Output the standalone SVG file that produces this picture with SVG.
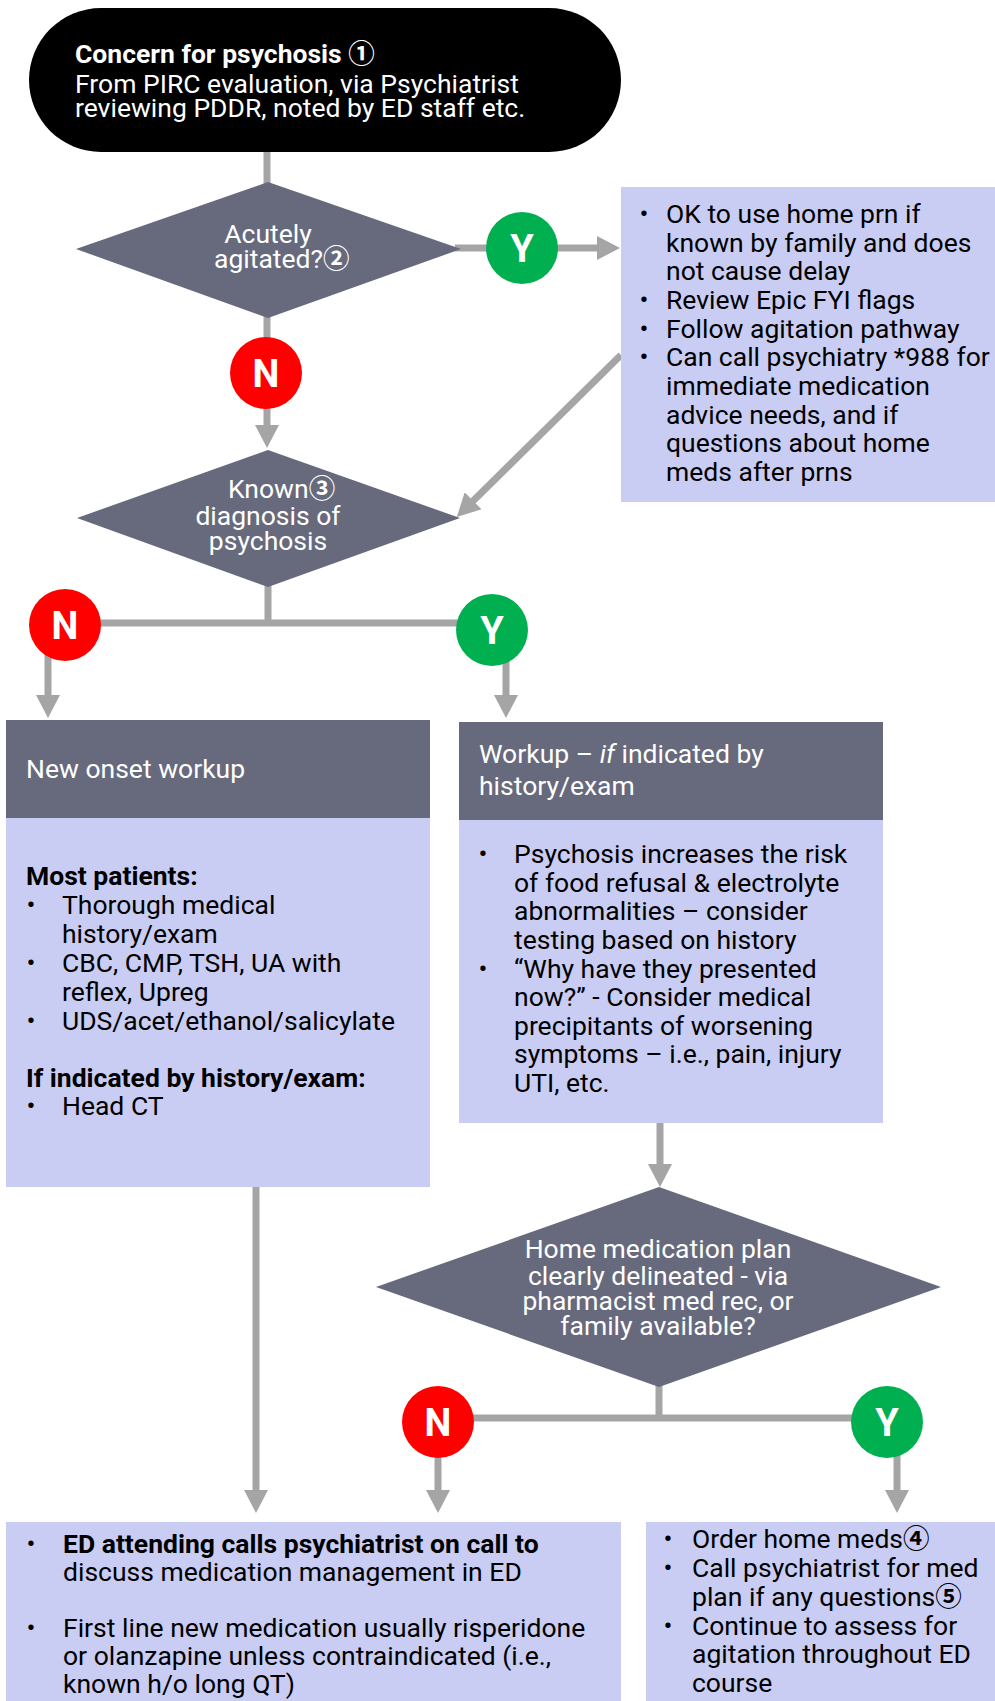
<svg xmlns="http://www.w3.org/2000/svg" width="995" height="1701" viewBox="0 0 995 1701">
<defs>
<style>
text{font-family:Roboto,"Liberation Sans",sans-serif;font-size:26.5px;fill:#000}
.w{fill:#fff}
.b{font-weight:bold}
.c{text-anchor:middle}
.circ{font-family:"Noto Sans CJK JP","DejaVu Sans",sans-serif;font-weight:bold}
.ln{stroke:#a5a5a5;stroke-width:7;fill:none}
.ar{marker-end:url(#ah)}
.dia{fill:#676a7d}
.box{fill:#c9cdf4}
.hdr{fill:#676a7d}
.yes{fill:#00b050}
.no{fill:#ff0000}
.lbl{font-size:38px;font-weight:bold;fill:#fff;text-anchor:middle}
</style>
<marker id="ah" markerUnits="userSpaceOnUse" markerWidth="23" markerHeight="24" viewBox="0 0 23 24" refX="3" refY="12" orient="auto">
<path d="M0,0 L23,12 L0,24 z" fill="#a5a5a5"/>
</marker>
</defs>
<rect width="995" height="1701" fill="#fff"/>

<g id="connectors">
<line class="ln" x1="267" y1="150" x2="267" y2="184"/>
<line class="ln" x1="455" y1="248" x2="522" y2="248"/>
<line class="ln ar" x1="522" y1="248" x2="600" y2="248"/>
<line class="ln" x1="267" y1="316" x2="267" y2="373"/>
<line class="ln ar" x1="267" y1="373" x2="267" y2="428"/>
<line class="ln ar" x1="621" y1="355" x2="471" y2="503"/>
<line class="ln" x1="268" y1="585" x2="268" y2="623"/>
<line class="ln" x1="65" y1="623" x2="492" y2="623"/>
<path class="ln ar" d="M65,624 L48,640 L48,698"/>
<line class="ln ar" x1="506" y1="630" x2="506" y2="698"/>
<line class="ln ar" x1="660" y1="1120" x2="660" y2="1167"/>
<line class="ln" x1="659" y1="1385" x2="659" y2="1418"/>
<line class="ln" x1="438" y1="1418" x2="887" y2="1418"/>
<line class="ln ar" x1="438" y1="1422" x2="438" y2="1493"/>
<path class="ln ar" d="M887,1422 L897,1440 L897,1493"/>
<line class="ln ar" x1="256" y1="1185" x2="256" y2="1493"/>
</g>

<g id="start">
<rect x="29" y="8" width="592" height="144" rx="72" fill="#000"/>
<text class="w b" x="75" y="63">Concern for psychosis <tspan class="circ">①</tspan></text>
<text class="w" x="75" y="93">From PIRC evaluation, via Psychiatrist</text>
<text class="w" x="75" y="117">reviewing PDDR, noted by ED staff etc.</text>
</g>

<g id="d-agitated">
<polygon class="dia" points="76,249 268,182 461,249 268,318"/>
<text class="w c" x="268" y="243">Acutely</text>
<text class="w" x="214" y="268">agitated?<tspan class="circ">②</tspan></text>
</g>

<g id="agitation-box">
<rect class="box" x="621" y="187" width="380" height="315"/>
<text class="c" x="644" y="223">•</text>
<text x="666" y="223">OK to use home prn if</text>
<text x="666" y="252">known by family and does</text>
<text x="666" y="280">not cause delay</text>
<text class="c" x="644" y="309">•</text>
<text x="666" y="309">Review Epic FYI flags</text>
<text class="c" x="644" y="338">•</text>
<text x="666" y="338">Follow agitation pathway</text>
<text class="c" x="644" y="366">•</text>
<text x="666" y="366">Can call psychiatry *988 for</text>
<text x="666" y="395">immediate medication</text>
<text x="666" y="424">advice needs, and if</text>
<text x="666" y="452">questions about home</text>
<text x="666" y="481">meds after prns</text>
</g>

<g id="d-known">
<polygon class="dia" points="77,518 268,450 460,518 268,587"/>
<text class="w" x="228" y="498">Known<tspan class="circ">③</tspan></text>
<text class="w c" x="268" y="525">diagnosis of</text>
<text class="w c" x="268" y="550">psychosis</text>
</g>

<g id="new-onset">
<rect class="hdr" x="6" y="720" width="424" height="98"/>
<rect class="box" x="6" y="818" width="424" height="369"/>
<text class="w" x="26" y="778">New onset workup</text>
<text class="b" x="26" y="885">Most patients:</text>
<text class="c" x="31" y="914">•</text>
<text x="62" y="914">Thorough medical</text>
<text x="62" y="943">history/exam</text>
<text class="c" x="31" y="972">•</text>
<text x="62" y="972">CBC, CMP, TSH, UA with</text>
<text x="62" y="1001">reflex, Upreg</text>
<text class="c" x="31" y="1030">•</text>
<text x="62" y="1030">UDS/acet/ethanol/salicylate</text>
<text class="b" x="26" y="1087">If indicated by history/exam:</text>
<text class="c" x="31" y="1115">•</text>
<text x="62" y="1115">Head CT</text>
</g>

<g id="workup">
<rect class="hdr" x="459" y="722" width="424" height="98"/>
<rect class="box" x="459" y="820" width="424" height="303"/>
<text class="w" x="479" y="763">Workup – <tspan font-style="italic">if</tspan> indicated by</text>
<text class="w" x="479" y="795">history/exam</text>
<text class="c" x="483" y="863">•</text>
<text x="514" y="863">Psychosis increases the risk</text>
<text x="514" y="892">of food refusal &amp; electrolyte</text>
<text x="514" y="920">abnormalities – consider</text>
<text x="514" y="949">testing based on history</text>
<text class="c" x="483" y="978">•</text>
<text x="514" y="978">“Why have they presented</text>
<text x="514" y="1006">now?” - Consider medical</text>
<text x="514" y="1035">precipitants of worsening</text>
<text x="514" y="1063">symptoms – i.e., pain, injury</text>
<text x="514" y="1092">UTI, etc.</text>
</g>

<g id="d-homemed">
<polygon class="dia" points="376,1287 659,1187 941,1287 659,1387"/>
<text class="w c" x="658" y="1258">Home medication plan</text>
<text class="w c" x="658" y="1285">clearly delineated - via</text>
<text class="w c" x="658" y="1310">pharmacist med rec, or</text>
<text class="w c" x="658" y="1335">family available?</text>
</g>

<g id="call-psych">
<rect class="box" x="6" y="1522" width="615" height="185"/>
<text class="c" x="31" y="1553">•</text>
<text class="b" x="63" y="1553">ED attending calls psychiatrist on call to</text>
<text x="63" y="1581">discuss medication management in ED</text>
<text class="c" x="31" y="1637">•</text>
<text x="63" y="1637">First line new medication usually risperidone</text>
<text x="63" y="1665">or olanzapine unless contraindicated (i.e.,</text>
<text x="63" y="1693">known h/o long QT)</text>
</g>

<g id="home-meds">
<rect class="box" x="646" y="1522" width="355" height="185"/>
<text class="c" x="668" y="1548">•</text>
<text x="692" y="1548">Order home meds<tspan class="circ">④</tspan></text>
<text class="c" x="668" y="1577">•</text>
<text x="692" y="1577">Call psychiatrist for med</text>
<text x="692" y="1606">plan if any questions<tspan class="circ">⑤</tspan></text>
<text class="c" x="668" y="1635">•</text>
<text x="692" y="1635">Continue to assess for</text>
<text x="692" y="1663">agitation throughout ED</text>
<text x="692" y="1692">course</text>
</g>

<g id="labels">
<circle class="yes" cx="522" cy="248" r="36"/><text class="lbl" x="522" y="262">Y</text>
<circle class="no" cx="266" cy="373" r="36"/><text class="lbl" x="266" y="387">N</text>
<circle class="no" cx="65" cy="625" r="36"/><text class="lbl" x="65" y="639">N</text>
<circle class="yes" cx="492" cy="630" r="36"/><text class="lbl" x="492" y="644">Y</text>
<circle class="no" cx="438" cy="1422" r="36"/><text class="lbl" x="438" y="1436">N</text>
<circle class="yes" cx="887" cy="1422" r="36"/><text class="lbl" x="887" y="1436">Y</text>
</g>
</svg>
